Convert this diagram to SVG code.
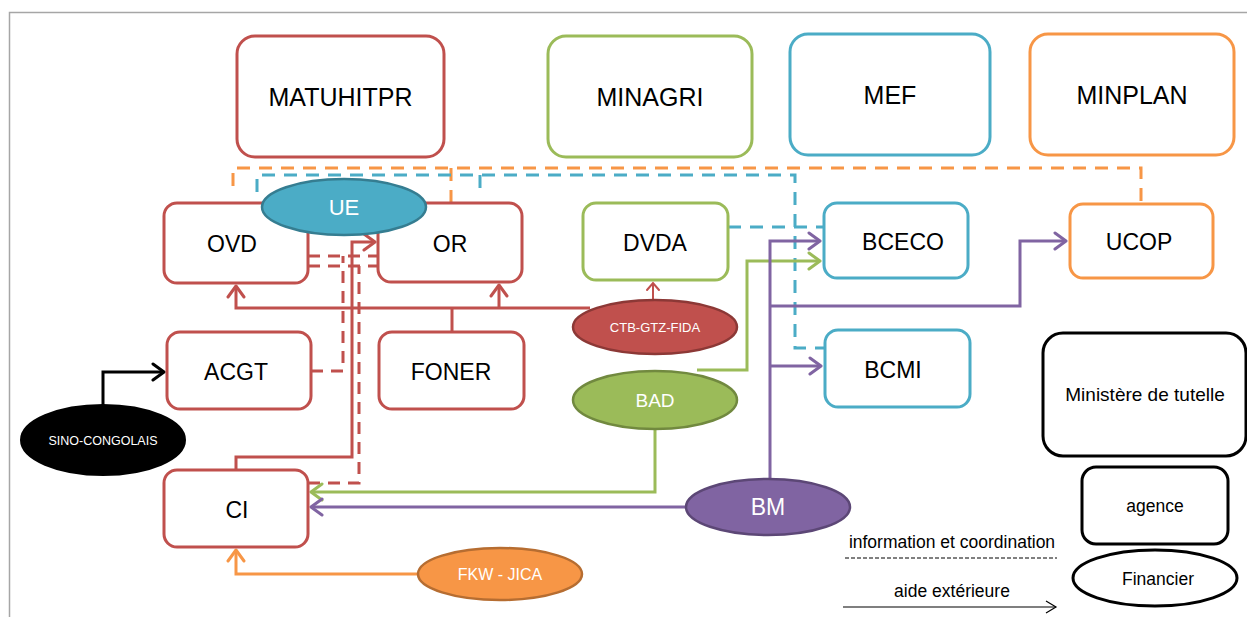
<svg xmlns="http://www.w3.org/2000/svg" width="1247" height="617" viewBox="0 0 1247 617">
<style>
text{font-family:"Liberation Sans",Arial,sans-serif;text-anchor:middle;}
.big{font-size:25px;fill:#000;}
.mid{font-size:23px;fill:#000;}
.leg{font-size:17.5px;fill:#000;}
.w{fill:#fff;}
.box{fill:#fff;stroke-width:3;}
.r{stroke:#C0504D;}
.g{stroke:#9BBB59;}
.b{stroke:#4BACC6;}
.o{stroke:#F79646;}
.k{stroke:#000;}
.ln{fill:none;stroke-width:3;}
.dash{stroke-dasharray:13 9;}
</style>
<defs>
<marker id="aR" viewBox="-14 -10 16 20" refX="0" refY="0" markerWidth="16" markerHeight="20" markerUnits="userSpaceOnUse" orient="auto"><path d="M-11,-8 L0,0 L-11,8" fill="none" stroke="#C0504D" stroke-width="3" stroke-linecap="round" stroke-linejoin="round"/></marker>
<marker id="aR2" viewBox="-10 -8 12 16" refX="0" refY="0" markerWidth="12" markerHeight="16" markerUnits="userSpaceOnUse" orient="auto"><path d="M-7,-6 L0,0 L-7,6" fill="none" stroke="#C0504D" stroke-width="2" stroke-linecap="round"/></marker>
<marker id="aG" viewBox="-14 -10 16 20" refX="0" refY="0" markerWidth="16" markerHeight="20" markerUnits="userSpaceOnUse" orient="auto"><path d="M-11,-8 L0,0 L-11,8" fill="none" stroke="#9BBB59" stroke-width="3" stroke-linecap="round" stroke-linejoin="round"/></marker>
<marker id="aP" viewBox="-14 -10 16 20" refX="0" refY="0" markerWidth="16" markerHeight="20" markerUnits="userSpaceOnUse" orient="auto"><path d="M-11,-8 L0,0 L-11,8" fill="none" stroke="#8064A2" stroke-width="3" stroke-linecap="round" stroke-linejoin="round"/></marker>
<marker id="aO" viewBox="-14 -10 16 20" refX="0" refY="0" markerWidth="16" markerHeight="20" markerUnits="userSpaceOnUse" orient="auto"><path d="M-11,-8 L0,0 L-11,8" fill="none" stroke="#F79646" stroke-width="3" stroke-linecap="round" stroke-linejoin="round"/></marker>
<marker id="aK" viewBox="-14 -10 16 20" refX="0" refY="0" markerWidth="16" markerHeight="20" markerUnits="userSpaceOnUse" orient="auto"><path d="M-11,-8 L0,0 L-11,8" fill="none" stroke="#000" stroke-width="3" stroke-linecap="round" stroke-linejoin="round"/></marker>
<marker id="aK1" viewBox="-12 -8 14 16" refX="0" refY="0" markerWidth="14" markerHeight="16" markerUnits="userSpaceOnUse" orient="auto"><path d="M-10,-6 L0,0 L-10,6" fill="none" stroke="#000" stroke-width="1.2"/></marker>
</defs>
<rect width="1247" height="617" fill="#fff"/>
<path d="M9.5,617 V12.5 H1247" fill="none" stroke="#A6A6A6" stroke-width="1.5"/>

<g id="connectors">
<!-- information & coordination (dashed) -->
<path class="ln o dash" d="M233,186 V168 H1141 V204"/>
<path class="ln o dash" d="M451,168 V203"/>
<path class="ln b dash" d="M257,192 V175 H795 V348 H825"/>
<path class="ln b dash" d="M480,175 V192"/>
<path class="ln b dash" d="M728,227 H824"/>
<path class="ln r" style="stroke-dasharray:12 8" d="M308,256 H378"/>
<path class="ln r" style="stroke-dasharray:12 8" d="M308,266 H378"/>
<path class="ln r" style="stroke-dasharray:12 8" d="M311,371 H343 V256"/>
<path class="ln r" style="stroke-dasharray:12 8" d="M308,483 H359 V266"/>
<!-- aide extérieure (solid) -->
<path class="ln r" d="M590,308 H236 V286" marker-end="url(#aR)"/>
<path class="ln r" d="M499,308 V285" marker-end="url(#aR)"/>
<path class="ln r" d="M452,332 V308"/>
<path class="ln r" d="M236,470 V457 H352 V242 H375" marker-end="url(#aR)"/>
<path fill="none" stroke="#C0504D" stroke-width="2" d="M653,301 V283" marker-end="url(#aR2)"/>
<path class="ln g" d="M697,370 H747 V261 H820" marker-end="url(#aG)"/>
<path class="ln g" d="M655,429 V492 H311" marker-end="url(#aG)"/>
<path class="ln" stroke="#8064A2" d="M686,507 H311" marker-end="url(#aP)"/>
<path class="ln" stroke="#8064A2" d="M770,479 V241 H820" marker-end="url(#aP)"/>
<path class="ln" stroke="#8064A2" d="M770,306 H1020 V241 H1066" marker-end="url(#aP)"/>
<path class="ln" stroke="#8064A2" d="M770,366 H821" marker-end="url(#aP)"/>
<path class="ln k" d="M103,405 V372 H164" marker-end="url(#aK)"/>
<path class="ln o" d="M418,574 H236 V550" marker-end="url(#aO)"/>
</g>

<g id="MATUHITPR"><rect class="box r" x="237" y="36" width="207" height="121" rx="18"/><text class="big" x="340.5" y="106">MATUHITPR</text></g>
<g id="MINAGRI"><rect class="box g" x="548" y="36" width="204" height="121" rx="18"/><text class="big" x="650" y="106">MINAGRI</text></g>
<g id="MEF"><rect class="box b" x="790" y="34" width="200" height="121" rx="18"/><text class="big" x="890" y="104">MEF</text></g>
<g id="MINPLAN"><rect class="box o" x="1030" y="34" width="204" height="121" rx="18"/><text class="big" x="1132" y="104">MINPLAN</text></g>

<g id="OVD"><rect class="box r" x="164" y="203" width="144" height="80" rx="13"/><text class="mid" x="232" y="252">OVD</text></g>
<g id="OR"><rect class="box r" x="378" y="203" width="144" height="79" rx="13"/><text class="mid" x="450" y="252">OR</text></g>
<g id="DVDA"><rect class="box g" x="583" y="203" width="145" height="77" rx="13"/><text class="mid" x="655" y="251">DVDA</text></g>
<g id="BCECO"><rect class="box b" x="824" y="203" width="144" height="75" rx="13"/><text class="mid" x="903" y="250">BCECO</text></g>
<g id="UCOP"><rect class="box o" x="1070" y="204" width="143" height="74" rx="13"/><text class="mid" x="1139" y="250">UCOP</text></g>
<g id="ACGT"><rect class="box r" x="167" y="332" width="144" height="77" rx="13"/><text class="mid" x="236" y="380">ACGT</text></g>
<g id="FONER"><rect class="box r" x="379" y="332" width="145" height="77" rx="13"/><text class="mid" x="451" y="380">FONER</text></g>
<g id="BCMI"><rect class="box b" x="825" y="330" width="145" height="77" rx="13"/><text class="mid" x="893" y="378">BCMI</text></g>
<g id="CI"><rect class="box r" x="164" y="470" width="144" height="77" rx="13"/><text class="mid" x="237" y="518">CI</text></g>

<g id="UE"><ellipse cx="344" cy="207" rx="82" ry="28" fill="#4BACC6" stroke="#357D91" stroke-width="2.5"/><text class="w" x="344" y="215" font-size="22">UE</text></g>
<g id="CTB-GTZ-FIDA"><ellipse cx="655" cy="327" rx="82" ry="27" fill="#C0504D" stroke="#8C3836" stroke-width="2.5"/><text class="w" x="655" y="332" font-size="13">CTB-GTZ-FIDA</text></g>
<g id="BAD"><ellipse cx="655" cy="400" rx="82" ry="29" fill="#9BBB59" stroke="#71893F" stroke-width="2.5"/><text class="w" x="655" y="407" font-size="19">BAD</text></g>
<g id="BM"><ellipse cx="768" cy="507" rx="82" ry="28" fill="#8064A2" stroke="#5C4776" stroke-width="2.5"/><text class="w" x="768" y="515" font-size="23">BM</text></g>
<g id="SINO-CONGOLAIS"><ellipse cx="103" cy="440" rx="82" ry="35" fill="#000" stroke="#000" stroke-width="2"/><text class="w" x="103" y="445" font-size="12.5">SINO-CONGOLAIS</text></g>
<g id="FKW-JICA"><ellipse cx="500" cy="574" rx="82" ry="26" fill="#F79646" stroke="#B66D31" stroke-width="2.5"/><text class="w" x="500" y="580" font-size="16">FKW - JICA</text></g>

<g id="legend">
<g id="leg-ministere"><rect class="box k" x="1043" y="333" width="203" height="123" rx="20"/><text class="leg" x="1145" y="401" style="font-size:19px">Ministère de tutelle</text></g>
<g id="leg-agence"><rect class="box k" x="1082" y="467" width="146" height="77" rx="14"/><text class="leg" x="1155" y="512">agence</text></g>
<g id="leg-financier"><ellipse cx="1155" cy="578" rx="82" ry="28" fill="#fff" stroke="#000" stroke-width="3"/><text class="leg" x="1158" y="585">Financier</text></g>
<text class="leg" x="952" y="548">information et coordination</text>
<path d="M845,558 H1057" stroke="#000" stroke-width="1" stroke-dasharray="4 2"/>
<text class="leg" x="952" y="597">aide extérieure</text>
<path d="M843,607 H1056" fill="none" stroke="#000" stroke-width="1.2" marker-end="url(#aK1)"/>
</g>
</svg>
